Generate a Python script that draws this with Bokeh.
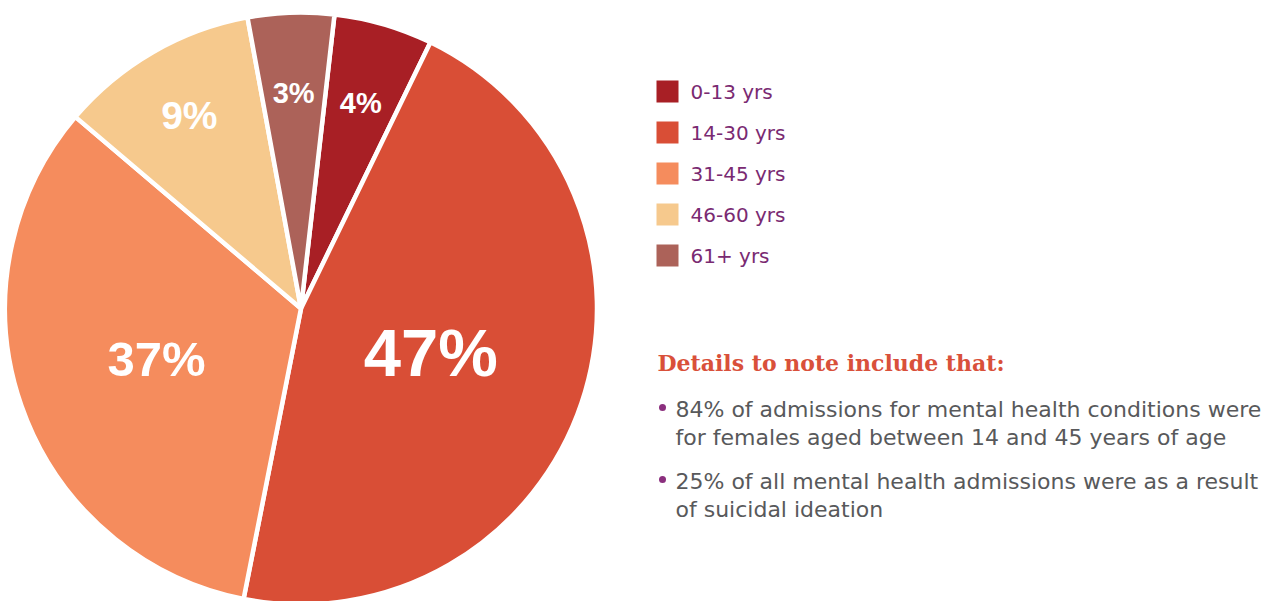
import numpy as np
from bokeh.plotting import figure
from bokeh.models import ColumnDataSource, Range1d
from bokeh.core.properties import value
from bokeh.embed import file_html
from bokeh.resources import INLINE

# ---------------- data ----------------
age_groups = ["0-13 yrs", "14-30 yrs", "31-45 yrs", "46-60 yrs", "61+ yrs"]
slice_shares = [5.4, 45.9, 33.1, 10.9, 4.7]          # angular share of each slice as drawn (%)
slice_labels = ["4%", "47%", "37%", "9%", "3%"]       # printed labels
note_title = "Details to note include that:"
notes = [
    ["84% of admissions for mental health conditions were",
     "for females aged between 14 and 45 years of age"],
    ["25% of all mental health admissions were as a result",
     "of suicidal ideation"],
]

# ---------------- styles ----------------
colors = ["#A81F25", "#D94E36", "#F58C5D", "#F6C98D", "#AC6259"]
label_radius = [214, 137, 153, 223, 216]
label_size = [29, 67, 49, 39, 29]

W, H = 1270, 601
IMG_H = 601


def Y(img_y):
    return IMG_H - img_y


p = figure(width=W, height=H, x_range=Range1d(0, W), y_range=Range1d(IMG_H - H, IMG_H),
           output_backend="svg", toolbar_location=None, x_axis_type=None, y_axis_type=None,
           min_border=0)
p.outline_line_color = None
p.background_fill_color = "white"
p.border_fill_color = "white"

# ---------------- pie ----------------
cx, cy, r = 300.5, Y(308), 296
start_deg = 6.5  # clockwise from 12 o'clock
bounds = start_deg + np.concatenate([[0], np.cumsum(slice_shares)]) * 3.6
start_a = np.radians(90 - bounds[1:])
end_a = np.radians(90 - bounds[:-1])
pie = ColumnDataSource(dict(start=start_a, end=end_a, color=colors, name=age_groups))
p.wedge(x=cx, y=cy, radius=r, start_angle="start", end_angle="end", direction="anticlock",
        fill_color="color", line_color="white", line_width=4.5, source=pie)

mid = np.radians((bounds[:-1] + bounds[1:]) / 2)
lr = np.array(label_radius, dtype=float)
fs = np.array(label_size, dtype=float)
lab = ColumnDataSource(dict(
    x=cx + lr * np.sin(mid),
    y=cy + lr * np.cos(mid),
    text=slice_labels,
    size=[f"{s:.0f}px" for s in fs],
))
p.text(x="x", y="y", text="text", source=lab, text_font=value("Liberation Sans"),
       text_font_style="bold", text_font_size="size", text_color="white",
       text_align="center", text_baseline="middle")

# ---------------- legend ----------------
n = len(age_groups)
ly = np.array([Y(91 + 41 * i) for i in range(n)], dtype=float)
leg = ColumnDataSource(dict(x=[667] * n, y=ly, color=colors, text=age_groups,
                            tx=[690] * n, ty=ly))
p.rect(x="x", y="y", width=22, height=22, fill_color="color", line_color=None, source=leg)
p.text(x="tx", y="ty", text="text", source=leg, text_font=value("DejaVu Sans"),
       text_font_size="20px", text_color="#7A2A72", text_align="left", text_baseline="middle")

# ---------------- notes ----------------
p.text(x=[657], y=[Y(362.5)], text=[note_title], text_font=value("DejaVu Serif"),
       text_font_style="bold", text_font_size="22px", text_color="#D9503A",
       text_align="left", text_baseline="middle")

line_x, line_y, line_t, dot_y = [], [], [], []
base = [409, 481]
for k, block in enumerate(notes):
    dot_y.append(Y(base[k] - 2))
    for j, line in enumerate(block):
        line_x.append(675)
        line_y.append(Y(base[k] + 27.5 * j))
        line_t.append(line)
p.scatter(x=[662] * len(dot_y), y=dot_y, size=7, marker="circle", fill_color="#8B2F7E",
          line_color=None)
p.text(x=line_x, y=line_y, text=line_t, text_font=value("DejaVu Sans"), text_font_size="22px",
       text_color="#58595B", text_align="left", text_baseline="middle")

open("out.html", "w").write(file_html(p, INLINE))
